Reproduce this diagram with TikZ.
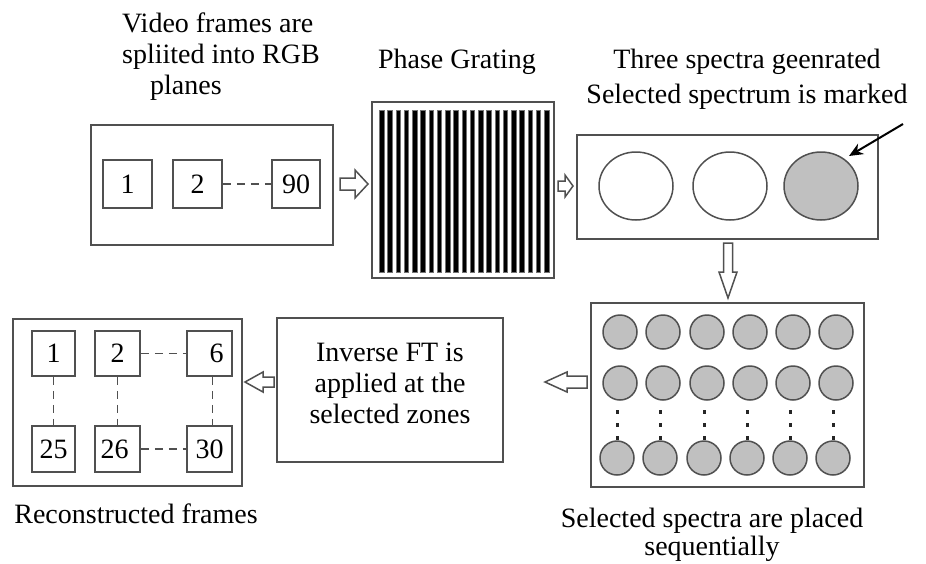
\documentclass[tikz,border=0pt]{standalone}
\usepackage{fontspec}
\setmainfont{Liberation Serif}
\usetikzlibrary{arrows.meta,shapes.geometric}
\definecolor{lc}{RGB}{80,80,80}
\definecolor{cf}{RGB}{192,192,192}
\newcommand{\blockarr}[6]{%
  \draw[harrow, shift={#1}, rotate=#2]
    (0,-#5) -- ({#3-#4},-#5) -- ({#3-#4},-#6) -- (#3,0) -- ({#3-#4},#6) -- ({#3-#4},#5) -- (0,#5) -- cycle;}
\begin{document}
\begin{tikzpicture}[x=1pt,y=-1pt,
  box/.style={draw=lc, line width=1.8pt, inner sep=0pt},
  fbox/.style={box, font=\fontsize{28}{31}\selectfont},
  txt/.style={font=\fontsize{28}{31}\selectfont, inner sep=0pt},
  harrow/.style={draw=lc, line width=1.5pt, fill=white, line join=miter},
  dsh/.style={draw=lc, line width=1.8pt, dash pattern=on 8pt off 6pt},
  dots/.style={draw=black!85, line width=3pt, dash pattern=on 4pt off 9pt},
  spec/.style={ellipse, draw=lc, line width=1.5pt, inner sep=0pt, minimum width=74pt, minimum height=68pt},
  dotc/.style={circle, draw=lc, line width=1.5pt, fill=cf, inner sep=0pt, minimum size=34pt}]
\useasboundingbox (0,0) rectangle (926,563);

% --- titles
\node[txt, align=left, anchor=north west] (t1) at (122,13) {Video frames are\\spliited into RGB\\\hspace*{28pt}planes};
\node[txt, anchor=base] (t2) at (457,68) {Phase Grating};
\node[txt, align=center, anchor=north, font=\fontsize{28}{35}\selectfont] (t3) at (747,49) {Three spectra geenrated\\Selected spectrum is marked};
\node[txt, anchor=base] (t4) at (136,523) {Reconstructed frames};
\node[txt, align=center, anchor=north, font=\fontsize{28}{28}\selectfont] (t5) at (712,508) {Selected spectra are placed\\sequentially};

% --- video frames box
\node[box, minimum width=242pt, minimum height=120pt] (vid) at (212,185) {};
\node[fbox, minimum width=49pt, minimum height=48pt] (f1) at (127.5,184) {1};
\node[fbox, minimum width=49pt, minimum height=48pt] (f2) at (197.5,184) {2};
\node[fbox, minimum width=48pt, minimum height=48pt] (f90) at (296,184) {90};
\draw[dsh] (f2.east) -- (f90.west);

% --- phase grating
\node[box, minimum width=182pt, minimum height=176pt] (grat) at (463,190) {};
\foreach \i in {0,...,20}
  \filldraw[fill=black, draw=black!55, line width=0.6pt] ({379.5+\i*8.25},110) rectangle ++(4.4,162);

% --- three spectra
\node[box, minimum width=301pt, minimum height=104pt] (spc) at (727.5,187) {};
\node[spec] (e1) at (636,186) {};
\node[spec] (e2) at (730,186) {};
\node[spec, fill=cf] (e3) at (821,186) {};
\coordinate (mk) at (903,124);
\draw[-{Stealth[length=14pt,width=12pt]}, line width=2pt] (mk) -- (849,156);

% --- grid of selected spectra
\node[box, minimum width=273pt, minimum height=184pt] (grid) at (727.5,395) {};
\foreach \c/\x in {1/620,2/663,3/707,4/750,5/793,6/836} {
  \node[dotc] (a\c) at (\x,332) {};
  \node[dotc] (b\c) at (\x,383) {};
  \node[dotc] (d\c) at (\x-3,458) {};
  \draw[dots] (\x-3,410) -- (\x-3,441);
}

% --- inverse FT
\node[box, minimum width=226pt, minimum height=144pt] (ift) at (390,390) {};
\node[txt, align=center] (ifttxt) at (390,383) {Inverse FT is\\applied at the\\selected zones};

% --- reconstructed frames
\node[box, minimum width=229pt, minimum height=167pt] (rec) at (127.5,402.5) {};
\node[fbox, minimum width=43pt, minimum height=45pt] (r1) at (53.5,353.5) {1};
\node[fbox, minimum width=45pt, minimum height=45pt] (r2) at (117.5,353.5) {2};
\node[fbox, minimum width=45pt, minimum height=45pt] (r6) at (209.5,353.5) {\hspace*{14pt}6};
\node[fbox, minimum width=43pt, minimum height=46pt] (r25) at (53.5,449) {25};
\node[fbox, minimum width=45pt, minimum height=46pt] (r26) at (117.5,449) {26\hspace*{6pt}};
\node[fbox, minimum width=45pt, minimum height=46pt] (r30) at (209.5,449) {30};
\draw[dsh] (r2.east) -- (r6.west);
\draw[dsh] (r26.east) -- (r30.west);
\draw[dsh] (r1.south) -- (r25.north);
\draw[dsh] (r2.south) -- (r26.north);
\draw[dsh] ([xshift=3pt]r6.south) -- ([xshift=3pt]r30.north);

% --- hollow block arrows
\blockarr{(340,184)}{0}{28}{13}{6}{14}
\blockarr{(558,186)}{0}{15}{8}{5}{11}
\blockarr{(728,243)}{-90}{55}{26}{4.5}{9}
\blockarr{(587,382)}{180}{42}{22}{6}{10}
\blockarr{(274,382)}{180}{29}{18}{5}{10}
\end{tikzpicture}
\end{document}
